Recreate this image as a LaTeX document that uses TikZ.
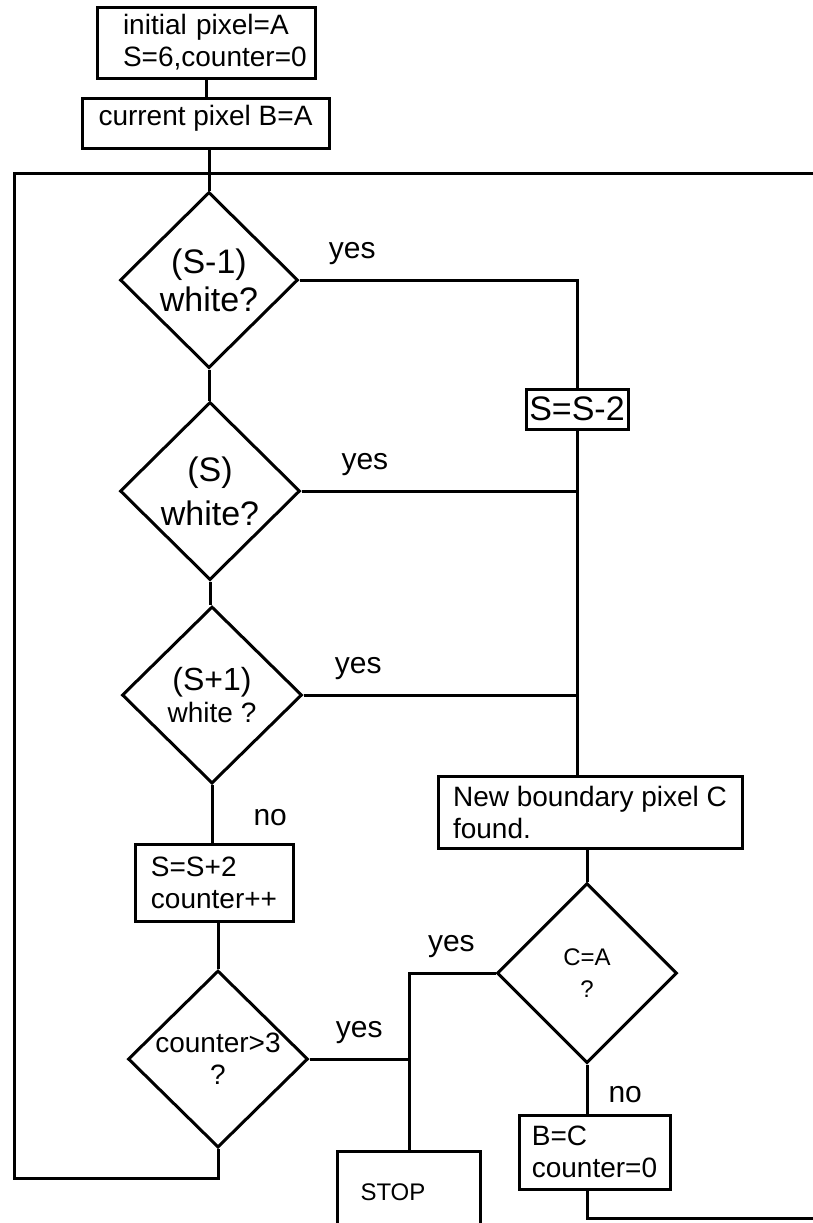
\documentclass[tikz,border=0pt]{standalone}
\usepackage{fontspec}
\setmainfont{Liberation Sans}
\usetikzlibrary{shapes.geometric}

\tikzset{
  box/.style={draw, rectangle, line width=1.5pt, inner sep=2pt, align=left,
              font=\fontsize{14}{16}\selectfont},
  decision/.style={draw, diamond, line width=1.5pt, inner sep=0pt, align=center,
              font=\fontsize{14}{16}\selectfont},
  answer/.style={font=\fontsize{15}{17}\selectfont, inner sep=2pt},
  link/.style={line width=1.5pt}
}

\begin{document}
\begin{tikzpicture}[x=0.5pt,y=-0.5pt]
  \clip (0,0) rectangle (813,1223);

  % start of the trace
  \node[box, text width=107pt, inner xsep=1pt, minimum height=35.5pt]
       (init) at (206,42.5) {\hspace*{12pt}initial pixel=A\\\hspace*{12pt}S=6,counter=0};
  \node[box, minimum width=123.5pt, minimum height=25pt, text depth=8pt]
       (cur) at (205.5,123) {current pixel B=A};

  % the three neighbours
  \node[decision, minimum width=89pt, minimum height=88pt, font=\fontsize{17}{19}\selectfont]
       (d1) at (209,280) {(S-1)\\white?};
  \node[decision, minimum width=90pt, minimum height=89pt, font=\fontsize{17}{19}\selectfont]
       (d2) at (210,491) {(S)\\[3pt]white?};
  \node[decision, minimum width=90pt, minimum height=88.5pt]
       (d3) at (212,695) {{\fontsize{16}{16}\selectfont(S+1)}\\white ?};
  \node[box, font=\fontsize{17}{19}\selectfont, inner sep=1pt, minimum width=51pt, minimum height=20pt]
       (dec) at (577,409) {S=S-2};

  % no white neighbour
  \node[box, minimum width=79pt, minimum height=38.5pt] (add) at (214,882.5) {S=S+2\\counter++};
  \node[decision, minimum width=90pt, minimum height=88.5pt] (d4) at (218,1059) {counter>3\\?};

  % boundary pixel found
  \node[box, minimum width=152pt, minimum height=36pt] (found) at (590,812) {New boundary pixel C\\found.};
  \node[decision, minimum width=90pt, minimum height=90pt, font=\fontsize{12}{16}\selectfont]
       (d5) at (587,973) {C=A\\?};
  \node[box, minimum width=75.5pt, minimum height=37pt] (reset) at (594.5,1152) {B=C\\counter=0};
  \node[box, font=\fontsize{12}{14}\selectfont, text width=48.5pt, inner xsep=11.5pt, minimum height=41pt]
       (stop) at (409,1192) {STOP};

  \coordinate (topL) at (14,173);
  \coordinate (topR) at (813,173);
  \coordinate (loopL) at (14,1178);
  \coordinate (outR) at (813,1218);

  % connectors
  \draw[link] (init.south) -- (init.south |- cur.north);
  \draw[link] (d1.north |- cur.south) -- (d1.north);
  \draw[link] (d1.south) -- (d1.south |- d2.north);
  \draw[link] (d2.south) -- (d2.south |- d3.north);
  \draw[link] (d3.south) -- node[answer, right=18pt, pos=0.56] {no} (d3.south |- add.north);
  \draw[link] (d4.north |- add.south) -- (d4.north);
  \draw[link] (d4.south) |- (loopL) -- (topL) -- (topR);

  \draw[link] (d1.east) -- node[answer, above=5pt, pos=0.19] {yes} (d1.east -| dec.north) -- (dec.north);
  \draw[link] (d2.east) -- node[answer, above=5pt, pos=0.23] {yes} (d2.east -| dec.south);
  \draw[link] (d3.east) -- node[answer, above=5pt, pos=0.2] {yes} (d3.east -| dec.south);
  \draw[link] (dec.south) -- (dec.south |- found.north);

  \draw[link] (d5.north |- found.south) -- (d5.north);
  \draw[link] (d5.west) -- node[answer, above=5pt, pos=0.51] {yes} (d5.west -| stop.north) -- (stop.north);
  \draw[link] (d4.east) -- node[answer, above=5pt, pos=0.5] {yes} (d4.east -| stop.north);
  \draw[link] (d5.south) -- node[answer, right=8pt, pos=0.62] {no} (d5.south |- reset.north);
  \draw[link] (reset.south -| d5.south) |- (outR);
\end{tikzpicture}
\end{document}
